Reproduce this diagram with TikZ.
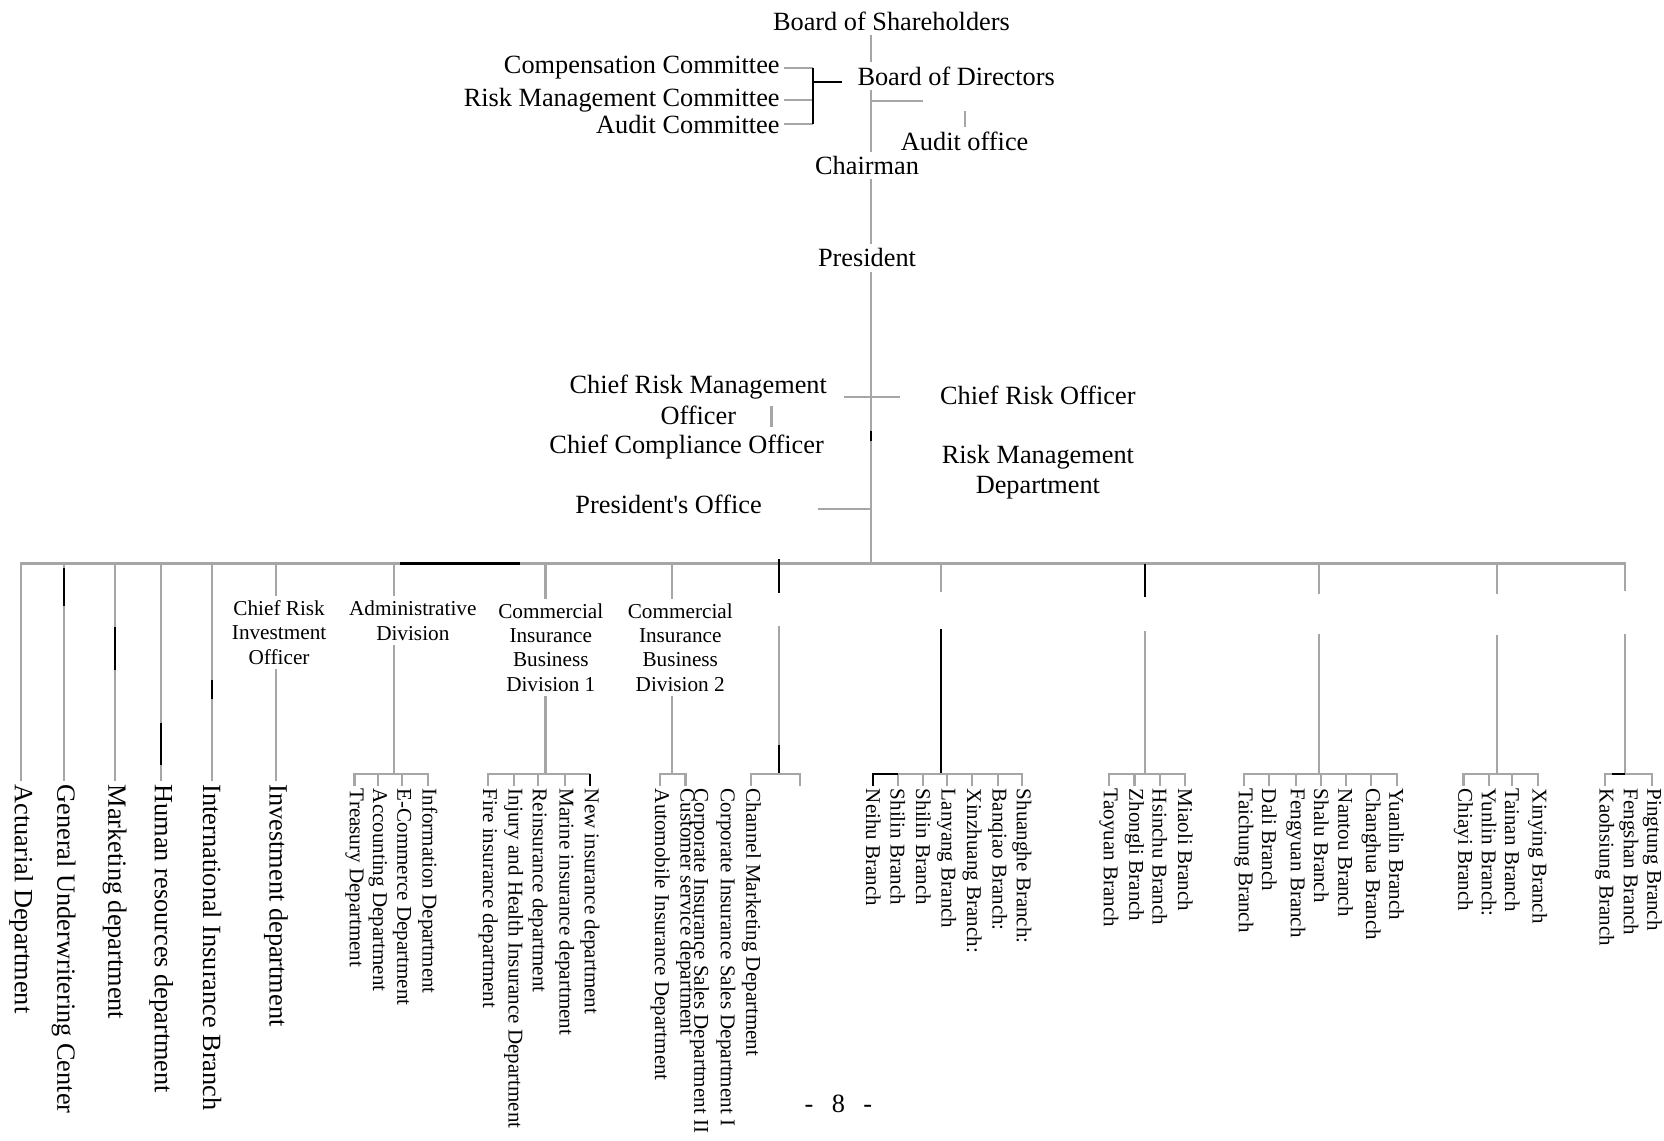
\documentclass[tikz,border=0pt]{standalone}
\usepackage{fontspec}
\setmainfont{Liberation Serif}[Ligatures=TeXOff]
\usetikzlibrary{calc}

\begin{document}
\begin{tikzpicture}[
    x=0.5pt, y=-0.5pt,
    big/.style={font=\fontsize{12.4}{14.5}\selectfont, inner sep=2pt, align=center},
    mid/.style={font=\fontsize{10}{11.5}\selectfont, inner sep=2pt, align=center},
    lvl/.style={font=\fontsize{12.4}{14.5}\selectfont, inner sep=1.5pt, rotate=-90, anchor=west},
    sub/.style={font=\fontsize{9.9}{11}\selectfont, inner sep=1pt, rotate=-90, anchor=west},
    gline/.style={draw=black!35, line width=1pt},
    bline/.style={draw=black, line width=1pt},
  ]
  \path[use as bounding box, fill=white] (0,0) rectangle (1568,1075);

  \node[big] (bsh) at (840,20) {Board of Shareholders};
  \node[big] (bod) at (901,72) {Board of Directors};
  \node[big, anchor=east] (comp) at (739,64) {Compensation Committee};
  \node[big, anchor=east] (rmc) at (739,94) {Risk Management Committee};
  \node[big, anchor=east] (audc) at (739,117) {Audit Committee};
  \node[big] (aud) at (909,133) {Audit office};
  \node[big] (chair) at (817,156) {Chairman};
  \node[big] (pres) at (817,243) {President};
  \node[big] (crmo) at (658,377) {Chief Risk Management\\Officer};
  \node[big] (cco) at (647,421) {Chief Compliance Officer};
  \node[big] (poff) at (630,475) {President's Office};
  \node[big] (cro) at (978,373) {Chief Risk Officer};
  \node[big] (rmd) at (978,445) {Risk Management\\Department};
  \node[big] (pg) at (790,1040) {-\hspace{0.7em}8\hspace{0.7em}-};

  \coordinate (spine) at (821,531);
  \coordinate (cb) at (766,77);
  \coordinate (cbE) at (793,77);
  \coordinate (aoL) at (870,95);
  \coordinate (crL) at (795,374);
  \coordinate (crR) at (848,374);
  \coordinate (ccT) at (727,383);
  \coordinate (poL) at (771,480);
  \coordinate (busR) at (1531,531);
  \coordinate (bkA) at (377,531);
  \coordinate (bkB) at (490,531);
  \coordinate (bar) at (0,729);

  \draw[gline] (bsh.south -| spine) -- (bod.north -| spine);
  \draw[gline] (comp.east) -- (comp.east -| cb) (rmc.east) -- (rmc.east -| cb)
               (audc.east) -- (audc.east -| cb);
  \draw[bline] (comp.east -| cb) -- (audc.east -| cb) (cb) -- (cbE);
  \draw[gline] (bod.south -| spine) -- (chair.north -| spine);
  \draw[gline] (aoL -| spine) -- (aoL);
  \draw[gline] (aud.north) -- ++(0,-15);
  \draw[gline] (chair.south -| spine) -- (pres.north -| spine);
  \draw[gline] (pres.south -| spine) -- (spine);
  \draw[gline] (crL) -- (crR);
  \draw[gline] (ccT) -- ++(0,19);
  \draw[gline] (poL) -- (poL -| spine);
  \draw[bline] ($(crL -| spine)+(0,32)$) -- ++(0,10);

  \node[lvl] (act) at (20,736) {Actuarial Department};
  \node[lvl] (guc) at (60,736) {General Underwritering Center};
  \node[lvl] (mkt) at (108,736) {Marketing department};
  \node[lvl] (hrd) at (152,736) {Human resources department};
  \node[lvl] (iib) at (200,736) {International Insurance Branch};
  \node[lvl] (inv) at (260,736) {Investment department};

  \draw[gline] (act.west) |- (busR) -- ++(0,26);
  \draw[bline, line width=1.6pt] (bkA) -- (bkB);
  \draw[gline] (guc.west |- busR) -- (guc.west);
  \draw[gline] (mkt.west |- busR) -- (mkt.west);
  \draw[gline] (hrd.west |- busR) -- (hrd.west);
  \draw[gline] (iib.west |- busR) -- (iib.west);
  \draw[bline] ($(guc.west |- busR)+(0,4)$) -- ++(0,36);
  \draw[bline] ($(mkt.west |- busR)+(0,60)$) -- ++(0,40);
  \draw[bline] ($(hrd.west |- busR)+(0,150)$) -- ++(0,40);
  \draw[bline] ($(iib.west |- busR)+(0,110)$) -- ++(0,18);

  \node[mid] (crio) at (263,596) {Chief Risk\\Investment\\Officer};
  \node[mid] (adm) at (389,585) {Administrative\\Division};
  \node[mid] (cib1) at (519,610) {Commercial\\Insurance\\Business\\Division 1};
  \node[mid] (cib2) at (641,610) {Commercial\\Insurance\\Business\\Division 2};

  \draw[gline] (inv.west |- busR) -- (inv.west |- crio.north)
               (inv.west |- crio.south) -- (inv.west);

  \coordinate (dAd) at (371,531);
  \node[sub] (trs) at (334,741) {Treasury Department};
  \node[sub] (acc) at (356,741) {Accounting Department};
  \node[sub] (ecd) at (379,741) {E-Commerce Department};
  \node[sub] (inf) at (403,741) {Information Department};
  \draw[gline] (dAd) -- (dAd |- adm.north) (dAd |- adm.south) -- (dAd |- bar);
  \draw[gline] (trs.west) -- (trs.west |- bar) -- (inf.west |- bar) -- (inf.west)
               (acc.west |- bar) -- (acc.west) (ecd.west |- bar) -- (ecd.west);

  \coordinate (dC1) at (514,531);
  \node[sub] (fire) at (460,741) {Fire insurance department};
  \node[sub] (inj) at (484,741) {Injury and Health Insurance Department};
  \node[sub] (reins) at (507,741) {Reinsurance department};
  \node[sub] (mar) at (532,741) {Marine insurance department};
  \node[sub] (newd) at (556,741) {New insurance department};
  \draw[gline] (dC1) -- (dC1 |- cib1.north) (dC1 |- cib1.south) -- (dC1 |- bar);
  \draw[gline] (fire.west) -- (fire.west |- bar) -- (newd.west |- bar)
               (inj.west |- bar) -- (inj.west) (reins.west |- bar) -- (reins.west)
               (mar.west |- bar) -- (mar.west);
  \draw[bline] (newd.west |- bar) -- (newd.west);

  \coordinate (dC2) at (633,531);
  \node[sub] (auto) at (622,741) {Automobile Insurance Department};
  \node[sub] (cust) at (646,741) {Customer service department};
  \node[sub] (corp2) at (659,741) {Corporate Insurance Sales Department II};
  \node[sub] (corp1) at (684,741) {Corporate Insurance Sales Department I};
  \draw[gline] (dC2) -- (dC2 |- cib2.north) (dC2 |- cib2.south) -- (dC2 |- bar);
  \draw[gline] (auto.west) -- (auto.west |- bar) -- (cust.west |- bar) -- (cust.west);

  \coordinate (dCh) at (734,531);
  \coordinate (chR) at (754,741);
  \node[sub] (chm) at (708,741) {Channel Marketing Department};
  \draw[bline] ($(dCh)+(0,-4)$) -- ++(0,32);
  \draw[gline] ($(dCh)+(0,59)$) -- ($(dCh |- bar)+(0,-27)$);
  \draw[bline] ($(dCh |- bar)+(0,-27)$) -- (dCh |- bar);
  \draw[gline] (chm.west) -- (chm.west |- bar) -- (chR |- bar) -- (chR);

  \coordinate (dTp) at (887,531);
  \node[sub] (neihu) at (823,741) {Neihu Branch};
  \node[sub] (shilinA) at (846,741) {Shilin Branch};
  \node[sub] (shilinB) at (870,741) {Shilin Branch};
  \node[sub] (lany) at (892,741) {Lanyang Branch};
  \node[sub] (xinz) at (916,741) {Xinzhuang Branch:};
  \node[sub] (banq) at (940,741) {Banqiao Branch:};
  \node[sub] (shuang) at (963,741) {Shuanghe Branch:};
  \draw[gline] (dTp) -- ++(0,27);
  \draw[bline] ($(dTp)+(0,62)$) -- (dTp |- bar);
  \draw[gline] (shilinA.west |- bar) -- (shuang.west |- bar) -- (shuang.west)
               (shilinA.west |- bar) -- (shilinA.west) (shilinB.west |- bar) -- (shilinB.west)
               (lany.west |- bar) -- (lany.west) (xinz.west |- bar) -- (xinz.west)
               (banq.west |- bar) -- (banq.west);
  \draw[bline] (neihu.west) -- (neihu.west |- bar) -- (shilinA.west |- bar);

  \coordinate (dTy) at (1079,531);
  \node[sub] (taoy) at (1045,741) {Taoyuan Branch};
  \node[sub] (zhong) at (1069,741) {Zhongli Branch};
  \node[sub] (hsin) at (1093,741) {Hsinchu Branch};
  \node[sub] (miao) at (1117,741) {Miaoli Branch};
  \draw[bline] (dTy) -- ++(0,32);
  \draw[gline] ($(dTy)+(0,64)$) -- (dTy |- bar);
  \draw[gline] (taoy.west) -- (taoy.west |- bar) -- (miao.west |- bar) -- (miao.west)
               (zhong.west |- bar) -- (zhong.west) (hsin.west |- bar) -- (hsin.west);

  \coordinate (dTc) at (1243,531);
  \node[sub] (taic) at (1172,741) {Taichung Branch};
  \node[sub] (dali) at (1196,741) {Dali Branch};
  \node[sub] (fengy) at (1221,741) {Fengyuan Branch};
  \node[sub] (shalu) at (1245,741) {Shalu Branch};
  \node[sub] (nant) at (1268,741) {Nantou Branch};
  \node[sub] (chang) at (1292,741) {Changhua Branch};
  \node[sub] (yuan) at (1316,741) {Yuanlin Branch};
  \draw[gline] (dTc) -- ++(0,29);
  \draw[gline] ($(dTc)+(0,66)$) -- (dTc |- bar);
  \draw[gline] (taic.west) -- (taic.west |- bar) -- (yuan.west |- bar) -- (yuan.west)
               (dali.west |- bar) -- (dali.west) (fengy.west |- bar) -- (fengy.west)
               (shalu.west |- bar) -- (shalu.west) (nant.west |- bar) -- (nant.west)
               (chang.west |- bar) -- (chang.west);

  \coordinate (dTn) at (1411,531);
  \node[sub] (chia) at (1379,741) {Chiayi Branch};
  \node[sub] (yunl) at (1403,741) {Yunlin Branch:};
  \node[sub] (tain) at (1425,741) {Tainan Branch};
  \node[sub] (xiny) at (1449,741) {Xinying Branch};
  \draw[gline] (dTn) -- ++(0,29);
  \draw[gline] ($(dTn)+(0,67)$) -- (dTn |- bar);
  \draw[gline] (chia.west) -- (chia.west |- bar) -- (xiny.west |- bar) -- (xiny.west)
               (yunl.west |- bar) -- (yunl.west) (tain.west |- bar) -- (tain.west);

  \node[sub] (kaoh) at (1512,741) {Kaohsiung Branch};
  \node[sub] (fengs) at (1535,741) {Fengshan Branch};
  \node[sub] (ping) at (1557,741) {Pingtung Branch};
  \draw[gline] ($(busR)+(0,66)$) -- (busR |- bar);
  \draw[gline] (kaoh.west) -- (kaoh.west |- bar) -- (ping.west |- bar) -- (ping.west);
  \draw[bline] ($(busR |- bar)+(-12,0)$) -- (busR |- bar);
\end{tikzpicture}
\end{document}
